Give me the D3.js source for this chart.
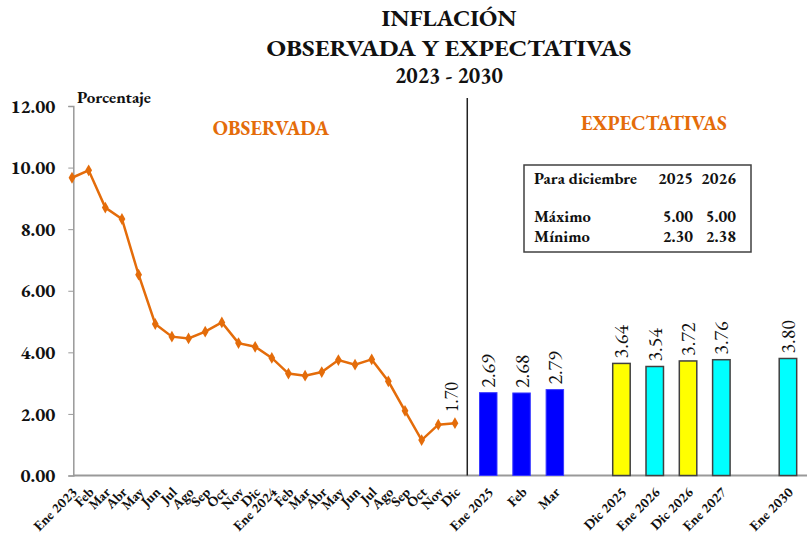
<!DOCTYPE html>
<html>
<head>
<meta charset="utf-8">
<script src="https://cdn.jsdelivr.net/npm/d3@7"></script>
<style>
    body { margin: 0; background: #fff; }
    svg { display: block; font-family: "EB Garamond", Garamond, "Liberation Serif", "Times New Roman", serif; }
</style>
</head>
<body>
<svg id="chart" width="807" height="537"></svg>
<script>
// Inflacion observada (mensual)
const obsPeriods = ['2023-01','2023-02','2023-03','2023-04','2023-05','2023-06','2023-07','2023-08','2023-09','2023-10','2023-11','2023-12',
                    '2024-01','2024-02','2024-03','2024-04','2024-05','2024-06','2024-07','2024-08','2024-09','2024-10','2024-11','2024-12'];
const obsLabels = ['Ene 2023','Feb','Mar','Abr','May','Jun','Jul','Ago','Sep','Oct','Nov','Dic',
                   'Ene 2024','Feb','Mar','Abr','May','Jun','Jul','Ago','Sep','Oct','Nov','Dic'];
const obsValues = [9.67, 9.91, 8.70, 8.33, 6.52, 4.92, 4.51, 4.45, 4.67, 4.97, 4.30, 4.18,
                   3.82, 3.31, 3.24, 3.36, 3.75, 3.60, 3.77, 3.06, 2.10, 1.15, 1.65, 1.70];

// Expectativas
const expPeriods = ['2025-01','2025-02','2025-03','2025-12','2026-01','2026-12','2027-01','2030-01'];
const expLabels = ['Ene 2025','Feb','Mar','Dic 2025','Ene 2026','Dic 2026','Ene 2027','Ene 2030'];
const expValues = [2.69, 2.68, 2.79, 3.64, 3.54, 3.72, 3.76, 3.80];
const expGroups = ['mensual','mensual','mensual','diciembre','enero','diciembre','enero','enero'];

// slots on the category axis (blanks keep the spacing of the original)
const xSlots = obsPeriods.concat(['_a','2025-01','_b','2025-02','_c','2025-03','_d','_e','_f',
    '2025-12','_g','2026-01','_h','2026-12','_i','2027-01','_j','_k','_l','2030-01','_m']);

const yTicks = [0, 2, 4, 6, 8, 10, 12];

// recuadro
const tableYears = ['2025', '2026'];
const tableMax = [5.00, 5.00];
const tableMin = [2.30, 2.38];

const titleLines = ['INFLACIÓN', 'OBSERVADA Y EXPECTATIVAS', '2023 - 2030'];
const titleWidths = [135, 365, 108];

const orange = '#E46C0A';
const svg = d3.select('#chart');

const x = d3.scalePoint().domain(xSlots).range([72, 804.6]);
const y = d3.scaleLinear().domain([0, 12]).range([475.5, 106]);
const step = x.step();

const color = d3.scaleOrdinal()
    .domain(['mensual', 'diciembre', 'enero'])
    .range(['#0000FF', '#FFFF00', '#00FFFF']);

// Title
svg.append('g').selectAll('text')
    .data(titleLines)
    .enter().append('text')
    .attr('x', 449)
    .attr('y', (d, i) => [26, 56, 83][i])
    .attr('text-anchor', 'middle')
    .attr('textLength', (d, i) => titleWidths[i])
    .attr('lengthAdjust', 'spacingAndGlyphs')
    .style('font-size', '22px')
    .style('font-weight', 'bold')
    .style('fill', '#111')
    .text(d => d);

// Y axis
const yAxis = svg.append('g')
    .attr('transform', `translate(${x(obsPeriods[0]) + 1.3},0)`)
    .call(d3.axisLeft(y).tickValues(yTicks).tickFormat(d3.format('.2f')).tickSizeOuter(0).tickSize(5));
yAxis.select('.domain').attr('stroke', '#999').attr('stroke-width', 1.5);
yAxis.selectAll('.tick line').attr('stroke', '#999');
yAxis.selectAll('.tick text')
    .attr('x', -18)
    .style('font-size', '19px')
    .style('font-weight', 'bold')
    .style('font-family', '"EB Garamond", Garamond, "Liberation Serif", serif')
    .style('fill', '#111');

// X axis line
svg.append('line')
    .attr('x1', x(obsPeriods[0]) + 1.3)
    .attr('x2', 807)
    .attr('y1', y(0))
    .attr('y2', y(0))
    .attr('stroke', '#999')
    .attr('stroke-width', 2);

// Divider between observed and expected
const divX = x(obsPeriods[obsPeriods.length - 1]) + step * 0.74;
svg.append('line')
    .attr('x1', divX).attr('x2', divX)
    .attr('y1', 98).attr('y2', y(0))
    .attr('stroke', '#222')
    .attr('stroke-width', 1.5);

// Bars
const barW = step * 1.05;
svg.append('g').selectAll('rect')
    .data(expValues)
    .enter().append('rect')
    .attr('x', (d, i) => x(expPeriods[i]) - barW / 2)
    .attr('y', d => y(d))
    .attr('width', barW)
    .attr('height', d => y(0) - y(d))
    .style('fill', (d, i) => color(expGroups[i]))
    .style('stroke', (d, i) => expGroups[i] === 'mensual' ? '#3a3aff' : '#404040')
    .style('stroke-width', (d, i) => expGroups[i] === 'mensual' ? 1 : 1.5);

// Bar value labels
svg.append('g').selectAll('text')
    .data(expValues)
    .enter().append('text')
    .attr('transform', (d, i) => `translate(${x(expPeriods[i]) + 7},${y(d) - 5}) rotate(-90)`)
    .style('font-size', '20px')
    .style('fill', '#111')
    .text(d => d.toFixed(2));

// Observed line
const line = d3.line()
    .x((d, i) => x(obsPeriods[i]))
    .y(d => y(d));

svg.append('path')
    .datum(obsValues)
    .attr('d', line)
    .attr('fill', 'none')
    .attr('stroke', orange)
    .attr('stroke-width', 2.5);

svg.append('g').selectAll('path')
    .data(obsValues)
    .enter().append('path')
    .attr('d', d3.symbol().type(d3.symbolDiamond).size(40))
    .attr('transform', (d, i) => `translate(${x(obsPeriods[i])},${y(d)})`)
    .attr('fill', orange);

// Last observed value
const lastIdx = obsValues.length - 1;
svg.append('text')
    .attr('transform', `translate(${x(obsPeriods[lastIdx]) + 3},${y(obsValues[lastIdx]) - 11}) rotate(-90)`)
    .style('font-size', '18px')
    .style('fill', '#111')
    .text(obsValues[lastIdx].toFixed(2));

// X labels
const xLabelData = obsPeriods.map((p, i) => ({ p: p, label: obsLabels[i] }))
    .concat(expPeriods.map((p, i) => ({ p: p, label: expLabels[i] })));

svg.append('g').selectAll('text')
    .data(xLabelData)
    .enter().append('text')
    .attr('transform', d => `translate(${x(d.p) + 6},${493}) rotate(-45)`)
    .attr('text-anchor', 'end')
    .style('font-size', '14px')
    .style('font-weight', 'bold')
    .style('fill', '#111')
    .text(d => d.label);

// Section labels
svg.append('text')
    .attr('x', 77).attr('y', 103)
    .style('font-size', '17px')
    .style('font-weight', 'bold')
    .style('fill', '#111')
    .text('Porcentaje');

svg.append('text')
    .attr('x', 271).attr('y', 135)
    .attr('text-anchor', 'middle')
    .style('font-size', '20px')
    .style('font-weight', 'bold')
    .style('fill', orange)
    .text('OBSERVADA');

svg.append('text')
    .attr('x', 654).attr('y', 130)
    .attr('text-anchor', 'middle')
    .style('font-size', '20px')
    .style('font-weight', 'bold')
    .style('fill', orange)
    .text('EXPECTATIVAS');

// Table box
const box = svg.append('g');
box.append('rect')
    .attr('x', 524).attr('y', 165)
    .attr('width', 227).attr('height', 87)
    .attr('fill', '#fff')
    .attr('stroke', '#404040')
    .attr('stroke-width', 1.5);

const colX = [693, 736];
const tStyle = sel => sel.style('font-size', '16.5px').style('font-weight', 'bold').style('fill', '#111');

box.append('text').attr('x', 534).attr('y', 184).text('Para diciembre').call(tStyle);
box.append('text').attr('x', 534).attr('y', 222).text('Máximo').call(tStyle);
box.append('text').attr('x', 534).attr('y', 242).text('Mínimo').call(tStyle);

tableYears.forEach((yr, i) => {
    box.append('text').attr('x', colX[i]).attr('y', 184).attr('text-anchor', 'end').text(yr).call(tStyle);
    box.append('text').attr('x', colX[i]).attr('y', 222).attr('text-anchor', 'end').text(tableMax[i].toFixed(2)).call(tStyle);
    box.append('text').attr('x', colX[i]).attr('y', 242).attr('text-anchor', 'end').text(tableMin[i].toFixed(2)).call(tStyle);
});
</script>
</body>
</html>
